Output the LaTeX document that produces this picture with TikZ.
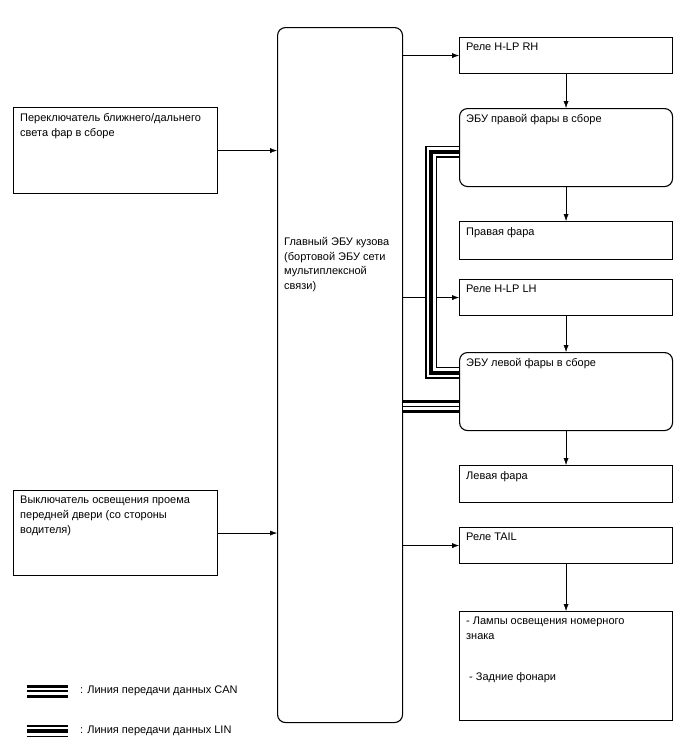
\documentclass[tikz,border=0pt]{standalone}
\usepackage{fontspec}
\setmainfont{Liberation Sans}
\usetikzlibrary{arrows.meta,positioning,calc}

\begin{document}
\begin{tikzpicture}[x=1pt,y=-1pt,>={Latex[length=7pt,width=5pt]},
  font=\fontsize{11}{14.8}\selectfont,
  blk/.style={draw,line width=1.1pt,anchor=north west,inner sep=0pt,minimum width=213pt},
  ecu/.style={blk,rounded corners=8pt},
  txt/.style={anchor=north west,inner sep=0pt,xshift=7pt,yshift=-6pt,align=left},
  lin/.style={line width=12pt,postaction={draw=white,line width=9pt},postaction={draw,line width=4pt}},
  can/.style={line width=13pt,postaction={draw=white,line width=7pt},postaction={draw,line width=1.4pt}}]
  \useasboundingbox (0,0) rectangle (688,755);
  % main body ECU and the two switches
  \node[ecu,minimum width=125pt,minimum height=695pt,
    label={[txt,yshift=-204pt]north west:{Главный ЭБУ кузова\\(бортовой ЭБУ сети\\мультиплексной\\связи)}}] (mainEcu) at (277,27) {};
  \node[blk,minimum width=204pt,minimum height=86pt,
    label={[txt]north west:{Переключатель ближнего/дальнего\\света фар в сборе}}] (swHead) at (13,107) {};
  \node[blk,minimum width=204pt,minimum height=85pt,
    label={[txt]north west:{Выключатель освещения проема\\передней двери (со стороны\\водителя)}}] (swDoor) at (13,490) {};
  % right column
  \node[blk,minimum height=36pt,label={[txt]north west:{Реле H-LP RH}}] (relRH) at (459,37) {};
  \node[ecu,minimum height=78pt,label={[txt]north west:{ЭБУ правой фары в сборе}}] (ecuRH) at (459,108) {};
  \node[blk,minimum height=38pt,label={[txt]north west:{Правая фара}}] (lampRH) at (459,221) {};
  \node[blk,minimum height=36pt,label={[txt]north west:{Реле H-LP LH}}] (relLH) at (459,279) {};
  \node[ecu,minimum height=78pt,label={[txt]north west:{ЭБУ левой фары в сборе}}] (ecuLH) at (459,352) {};
  \node[blk,minimum height=37pt,label={[txt]north west:{Левая фара}}] (lampLH) at (459,465) {};
  \node[blk,minimum height=36pt,label={[txt]north west:{Реле TAIL}}] (relTail) at (459,527) {};
  \node[blk,minimum height=109pt,label={[txt]north west:{- Лампы освещения номерного\\знака\\[26pt]\hspace{3pt}- Задние фонари}}] (lampTail) at (459,611) {};
  % inputs
  \draw[->] (swHead.east) -- (swHead.east -| mainEcu.west);
  \draw[->] (swDoor.east) -- (swDoor.east -| mainEcu.west);
  % relay outputs
  \draw[->] (relRH.west -| mainEcu.east) -- (relRH.west);
  \draw[->] (relLH.west -| mainEcu.east) -- (relLH.west);
  \draw[->] (relTail.west -| mainEcu.east) -- (relTail.west);
  \draw[->] (relRH) -- (ecuRH);
  \draw[->] (ecuRH) -- (lampRH);
  \draw[->] (relLH) -- (ecuLH);
  \draw[->] (ecuLH) -- (lampLH);
  \draw[->] (relTail) -- (lampTail);
  % LIN between headlight ECUs, CAN to left ECU
  \coordinate (linR) at ([yshift=-4pt]ecuRH.west);
  \coordinate (linL) at ([yshift=19pt]ecuLH.west);
  \coordinate (linHub) at ([xshift=-28pt]ecuRH.west);
  \draw[lin] (linR) -- (linR -| linHub) |- (linL);
  \coordinate (canEnd) at ([yshift=-15pt]ecuLH.west);
  \draw[can] (canEnd -| mainEcu.east) -- (canEnd);
  % legend
  \coordinate (canKeyA) at (27,691);
  \coordinate (canKeyB) at (68,691);
  \coordinate (linKeyA) at (27,731);
  \coordinate (linKeyB) at (68,731);
  \draw[can] (canKeyA) -- (canKeyB);
  \draw[lin] (linKeyA) -- (linKeyB);
  \node[anchor=west,inner sep=0pt] (canKey) at (80,691) {: Линия передачи данных CAN};
  \node[anchor=west,inner sep=0pt] (linKey) at (80,731) {: Линия передачи данных LIN};
\end{tikzpicture}
\end{document}
